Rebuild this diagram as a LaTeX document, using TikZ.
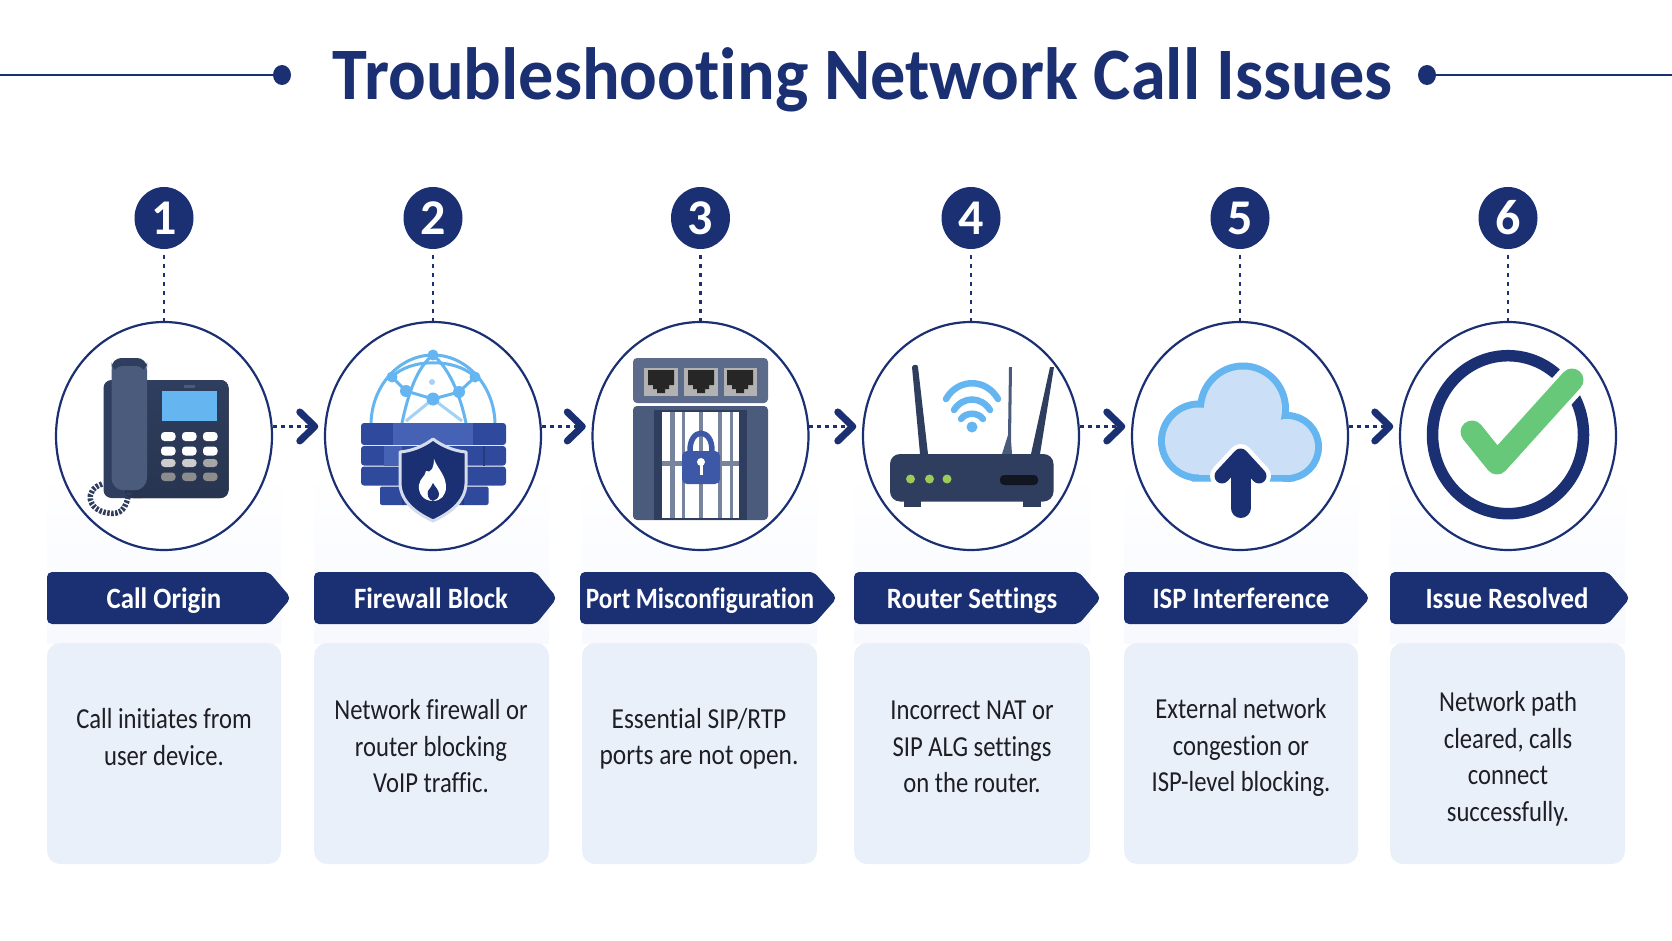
\documentclass[tikz,border=0pt]{standalone}
\usepackage{fontspec}
\setmainfont{Carlito}[Ligatures=NoCommon]
\usepackage{xcolor}
\usepackage{tikz}
\usetikzlibrary{shapes.geometric,arrows.meta}

\definecolor{navy}{HTML}{1B2F73}
\definecolor{cardblue}{HTML}{EAF0FA}
\definecolor{haloblue}{HTML}{F7F9FE}
\definecolor{inktext}{HTML}{1E1E24}
\definecolor{skyblue}{HTML}{64B5F0}
\definecolor{paleblue}{HTML}{CBE0F7}
\definecolor{slate}{HTML}{2F3E5E}
\definecolor{slatelight}{HTML}{4A5B7C}
\definecolor{brick}{HTML}{2F4A9C}
\definecolor{bricklight}{HTML}{4562B4}
\definecolor{checkgreen}{HTML}{66C878}
\definecolor{ledgreen}{HTML}{9CCB5A}

\tikzset{
  ring/.style={draw=navy, line width=2.2pt, fill=white, ellipse, inner sep=0pt,
    minimum width=216pt, minimum height=228pt},
  badge/.style={fill=navy, ellipse, inner sep=0pt, minimum width=59pt, minimum height=62pt,
    text=white, font=\fontsize{50}{50}\selectfont\bfseries},
  dropline/.style={draw=navy, line width=2.6pt, dash pattern=on 3.5pt off 5.5pt, shorten <=6pt},
  flowline/.style={draw=navy, line width=3pt, dash pattern=on 4pt off 4pt, shorten >=6pt,
    -{Straight Barb[length=15pt,width=29pt,line width=7pt,round]}},
  banner/.style={fill=navy, rounded corners=5pt},
  bannertext/.style={text=white, anchor=base, inner sep=0pt, xscale=.91, transform shape,
    font=\fontsize{29.5}{29.5}\selectfont\bfseries},
  card/.style={fill=cardblue, rounded corners=13pt},
  halo/.style={top color=white, bottom color=haloblue},
  cardtext/.style={text=inktext, align=center, inner sep=0pt, xscale=.85, transform shape,
    font=\fontsize{29}{36.5}\selectfont},
  titledot/.style={fill=navy, ellipse, inner sep=0pt, minimum width=18pt, minimum height=20pt},
  titleline/.style={draw=navy, line width=2.6pt},
  padkey/.style={rounded corners=3.5pt},
  webline/.style={draw=skyblue, line width=3pt},
  webdot/.style={fill=skyblue},
  wifi/.style={draw=skyblue, line width=6.5pt, line cap=round},
}

\newcommand{\jack}[2]{%
  \fill[black!85] (#1-13,#2-10) -- (#1+13,#2-10) -- (#1+13,#2+5) -- (#1+8,#2+5) -- (#1+8,#2+9)
    -- (#1+4,#2+9) -- (#1+4,#2+13) -- (#1-4,#2+13) -- (#1-4,#2+9) -- (#1-8,#2+9) -- (#1-8,#2+5)
    -- (#1-13,#2+5) -- cycle;}

\begin{document}
\begin{tikzpicture}[x=1pt,y=-1pt]
  \useasboundingbox[fill=white] (0,0) rectangle (1672,941);

  % title
  \coordinate (ruleL) at (0,75);
  \coordinate (ruleR) at (1672,75);
  \node[titledot] (dotL) at (282,75) {};
  \node[titledot] (dotR) at (1427,75) {};
  \draw[titleline] (ruleL) -- (dotL);
  \draw[titleline] (dotR) -- (ruleR);
  \node[text=navy, anchor=base, inner sep=0pt, xscale=.95, transform shape,
    font=\fontsize{74}{74}\selectfont\bfseries] (title) at (862.5,100) {Troubleshooting Network Call Issues};

  % glow under the circles
  \fill[halo] (47,470) rectangle (281,643);
  \fill[halo] (314,470) rectangle (549,643);
  \fill[halo] (582,470) rectangle (817,643);
  \fill[halo] (854,470) rectangle (1090,643);
  \fill[halo] (1124,470) rectangle (1358,643);
  \fill[halo] (1390,470) rectangle (1625,643);

  % circles
  \node[ring] (c1) at (164,436) {};
  \node[ring] (c2) at (433,436) {};
  \node[ring] (c3) at (700.5,436) {};
  \node[ring] (c4) at (971,436) {};
  \node[ring] (c5) at (1240,436) {};
  \node[ring] (c6) at (1508,436) {};

  % numbers
  \node[badge] (n1) at (164,218) {1};
  \node[badge] (n2) at (433,218) {2};
  \node[badge] (n3) at (700.5,218) {3};
  \node[badge] (n4) at (971,218) {4};
  \node[badge] (n5) at (1240,218) {5};
  \node[badge] (n6) at (1508,218) {6};

  \draw[dropline] (n1.south) -- (c1.north);
  \draw[dropline] (n2.south) -- (c2.north);
  \draw[dropline] (n3.south) -- (c3.north);
  \draw[dropline] (n4.south) -- (c4.north);
  \draw[dropline] (n5.south) -- (c5.north);
  \draw[dropline] (n6.south) -- (c6.north);

  \draw[flowline] (c1.5) -- (c2.175);
  \draw[flowline] (c2.5) -- (c3.175);
  \draw[flowline] (c3.5) -- (c4.175);
  \draw[flowline] (c4.5) -- (c5.175);
  \draw[flowline] (c5.5) -- (c6.175);

  % phone
  \fill[slate, rounded corners=8pt] (103.5,380) rectangle (150,498);
  \fill[rounded corners=8pt, top color=slate, bottom color=slate!85!black] (125,380) rectangle (228.5,498);
  \fill[slatelight, rounded corners=12pt] (111.5,358) rectangle (147,490);
  \fill[slate, rounded corners=10pt] (111.5,358) rectangle (147,372);
  \fill[slatelight, rounded corners=9pt] (113.5,366) rectangle (145,490);
  \fill[skyblue] (161.5,391) rectangle (217,421);
  \fill[slatelight] (184,385) rectangle (195,387.5);
  \fill[white, padkey] (161,432) rectangle (175.5,441);
  \fill[white, padkey] (182,432) rectangle (196.5,441);
  \fill[white, padkey] (203,432) rectangle (217.5,441);
  \fill[white, padkey] (161,446.5) rectangle (175.5,455.5);
  \fill[white, padkey] (182,446.5) rectangle (196.5,455.5);
  \fill[white, padkey] (203,446.5) rectangle (217.5,455.5);
  \fill[black!20, padkey] (161,459) rectangle (175.5,467);
  \fill[black!20, padkey] (182,459) rectangle (196.5,467);
  \fill[black!35, padkey] (203,459) rectangle (217.5,467);
  \fill[black!45, padkey] (161,472.5) rectangle (175.5,481);
  \fill[black!45, padkey] (182,472.5) rectangle (196.5,481);
  \fill[black!45, padkey] (203,472.5) rectangle (217.5,481);
  \draw[slate, line width=5.5pt, dash pattern=on 2.5pt off 1.5pt]
    (102,484) .. controls (84,490) and (87,510) .. (108,513) .. controls (120,515) and (127,510) .. (129,490);

  % firewall
  \draw[webline] (371,423) .. controls (372,385) and (400,355) .. (433,355) .. controls (466,355) and (494,385) .. (495,423);
  \draw[webline] (433,355) .. controls (420,365) and (410,385) .. (402,423);
  \draw[webline] (433,355) .. controls (445,365) and (458,385) .. (466,423);
  \draw[webline] (392,377) -- (406,391) -- (433,399) -- (459,392) -- (475,377);
  \draw[webline] (392,377) .. controls (410,358) and (456,358) .. (475,377);
  \draw[webline, skyblue!60] (406,421) -- (433,399) -- (462,421);
  \fill[webdot] (433,355) circle (5.5);
  \fill[webdot] (392,377) circle (5.5);
  \fill[webdot] (475,377) circle (5.5);
  \fill[webdot] (406,391) circle (6);
  \fill[webdot] (459,392) circle (6);
  \fill[webdot] (433,399) circle (6.5);
  \fill[skyblue!60] (432,382) circle (3);
  \fill[brick, rounded corners=3pt] (361,423) rectangle (506,445);
  \fill[bricklight] (393,423) rectangle (473,445);
  \fill[brick, rounded corners=3pt] (361,446) rectangle (506,465.5);
  \fill[bricklight] (384,446) rectangle (402,465.5);
  \fill[brick!80!black] (483,446) rectangle (485,465.5);
  \fill[brick, rounded corners=3pt] (361,466.5) rectangle (506,485.5);
  \fill[brick, rounded corners=2pt] (380,486.5) rectangle (488.5,505);
  \fill[brick!80!black] (402,486.5) rectangle (404,505);
  \fill[brick!80!black] (462,486.5) rectangle (464,505);
  \draw[navy, fill=navy, line join=round, line width=3pt, draw=cardblue!90!navy]
    (433,439) .. controls (424,446) and (412,451) .. (400,452) -- (400,484)
    .. controls (401,503) and (418,514) .. (433,521)
    .. controls (448,514) and (465,503) .. (466,484) -- (466,452)
    .. controls (454,451) and (442,446) .. (433,439) -- cycle;
  \fill[white] (433,501) .. controls (423,501) and (418,493) .. (419,485)
    .. controls (420,478) and (425,477) .. (426,471) .. controls (431,474) and (434,467) .. (434,459)
    .. controls (437,468) and (446,475) .. (446,487) .. controls (446,495) and (441,501) .. (433,501) -- cycle;
  \fill[navy] (433,501) .. controls (428,500) and (427,494) .. (428,491)
    .. controls (430,488) and (432,486) .. (433,483) .. controls (435,487) and (439,490) .. (439,494)
    .. controls (439,498) and (436,500) .. (433,501) -- cycle;

  % ports
  \fill[slatelight!90!white, rounded corners=4pt] (633,358) rectangle (768,403);
  \fill[black!30] (644,368) rectangle (678,396);
  \fill[black!30] (684,368) rectangle (718,396);
  \fill[black!30] (724,368) rectangle (757,396);
  \jack{661}{380}
  \jack{701}{380}
  \jack{740}{380}
  \fill[slatelight, rounded corners=4pt] (633,406) rectangle (768,520);
  \fill[slate] (653.5,410) rectangle (747,520);
  \fill[white] (662,412) rectangle (739,518);
  \fill[slatelight!75!white] (670,412) rectangle (675,518);
  \fill[slatelight!75!white] (682,412) rectangle (685,518);
  \fill[slatelight!75!white] (699,412) rectangle (703,518);
  \fill[slatelight!75!white] (718,412) rectangle (722,518);
  \fill[slatelight!75!white] (730,412) rectangle (733,518);
  \fill[slatelight!75!white] (662,461) rectangle (739,466);
  \draw[bricklight!80!navy, line width=5.5pt] (690,452) .. controls (689,427) and (713,427) .. (712,452);
  \fill[bricklight!80!navy, rounded corners=5pt] (682,451) rectangle (720,484);
  \fill[white] (701,462) circle (4);
  \fill[white] (699.5,464) rectangle (702.5,475);

  % router
  \fill[slate] (904,498) rectangle (921,507);
  \fill[slate] (1023,498) rectangle (1041,507);
  \fill[slate, line join=round] (912,367) .. controls (913,364) and (918,364) .. (918,367) -- (928,454) -- (920,454) -- cycle;
  \fill[slatelight] (1009,367) -- (1012,367) -- (1011,440) -- (1012,454) -- (1002,454) -- (1008,435) -- cycle;
  \fill[slate] (1050,367) -- (1054,367) -- (1040,454) -- (1031,454) -- cycle;
  \fill[slate, rounded corners=10pt] (890,454) rectangle (1053.5,501.5);
  \fill[ledgreen] (910.5,479) circle (4.5);
  \fill[ledgreen] (929.5,479) circle (4.5);
  \fill[ledgreen] (947,479) circle (4.5);
  \fill[black!65!slate, rounded corners=4pt] (1000,475) rectangle (1038,485);
  \draw[wifi] (946,399) .. controls (958,378) and (986,378) .. (998,399);
  \draw[wifi] (954,410) .. controls (963,396) and (981,396) .. (990,410);
  \draw[wifi] (961,419) .. controls (966,412) and (978,412) .. (983,419);
  \fill[skyblue] (972,427) circle (5.5);

  % cloud
  \path[fill=paleblue, preaction={draw=skyblue, line width=14pt}]
    (1199,441) ellipse (34 and 33.5) (1243,409) ellipse (39 and 39.5) (1287,447) ellipse (28 and 28)
    (1199,441) rectangle (1287,474.7);
  \fill[paleblue] (1199,430) rectangle (1287,474.7);
  \draw[white, line width=24pt, line cap=round, line join=round] (1222,476) -- (1240.6,456) -- (1259,476);
  \draw[white, line width=28pt] (1240.6,470) -- (1240.6,495);
  \draw[navy, line width=15pt, line cap=round, line join=round] (1222,476) -- (1240.6,456) -- (1259,476);
  \draw[navy, line width=20pt, line cap=round] (1240.6,470) -- (1240.6,508);

  % check
  \draw[navy, line width=11.5pt] (1508,434.7) ellipse (75.5 and 79);
  \draw[white, line width=32pt, line cap=round, line join=round] (1472,432) -- (1497,463) -- (1572,380);
  \draw[checkgreen, line width=23pt, line cap=round, line join=round] (1472,432) -- (1497,463) -- (1572,380);

  % banners
  \fill[banner] (47,572) -- (269,572) -- (291,598) -- (269,624) -- (47,624) -- cycle;
  \fill[banner] (314,572) -- (536,572) -- (557,598) -- (536,624) -- (314,624) -- cycle;
  \fill[banner] (580,572) -- (814,572) -- (837,598) -- (814,624) -- (580,624) -- cycle;
  \fill[banner] (854,572) -- (1079,572) -- (1101,598) -- (1079,624) -- (854,624) -- cycle;
  \fill[banner] (1124,572) -- (1346,572) -- (1370,598) -- (1346,624) -- (1124,624) -- cycle;
  \fill[banner] (1390,572) -- (1608,572) -- (1630,598) -- (1608,624) -- (1390,624) -- cycle;
  \node[bannertext] (h1) at (164,608) {Call Origin};
  \node[bannertext] (h2) at (431,608) {Firewall Block};
  \node[bannertext, xscale=.94] (h3) at (700,608) {Port Misconfiguration};
  \node[bannertext] (h4) at (972,608) {Router Settings};
  \node[bannertext] (h5) at (1241,608) {ISP Interference};
  \node[bannertext] (h6) at (1507,608) {Issue Resolved};

  % cards
  \fill[card] (47,643) rectangle (281,864);
  \fill[card] (314,643) rectangle (549,864);
  \fill[card] (582,643) rectangle (817,864);
  \fill[card] (854,643) rectangle (1090,864);
  \fill[card] (1124,643) rectangle (1358,864);
  \fill[card] (1390,643) rectangle (1625,864);
  \node[cardtext] (t1) at (164,737) {Call initiates from\\user device.};
  \node[cardtext] (t2) at (431,746.5) {Network firewall or\\router blocking\\VoIP traffic.};
  \node[cardtext, xscale=1.03] (t3) at (699,739) {Essential SIP/RTP\\ports are not open.};
  \node[cardtext] (t4) at (972,747) {Incorrect NAT or\\SIP ALG settings\\on the router.};
  \node[cardtext] (t5) at (1241,747.5) {External network\\congestion or\\ISP-level blocking.};
  \node[cardtext] (t6) at (1508,759) {Network path\\cleared, calls\\connect\\successfully.};
\end{tikzpicture}
\end{document}
